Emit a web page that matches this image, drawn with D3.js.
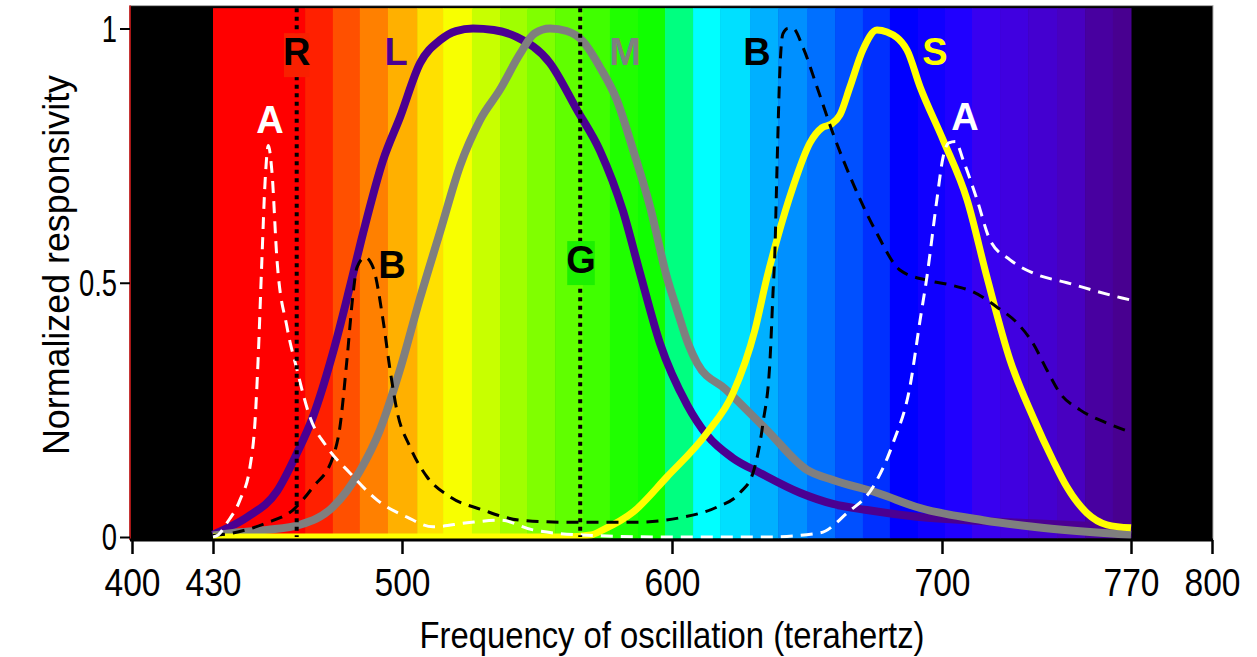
<!DOCTYPE html>
<html>
<head>
<meta charset="utf-8">
<script src="https://cdn.jsdelivr.net/npm/d3@7"></script>
<style>
  body { margin: 0; background: #fff; }
  text { font-family: "Liberation Sans", Arial, sans-serif; }
</style>
</head>
<body>
<div id="chart"></div>
<script>
var svgWidth = 1257;
var svgHeight = 657;

// spectrum bands (THz edges) and their colours
var bandEdges = [430, 464.1, 474.4, 484.4, 494.8, 505.6, 515.2, 525.9, 536.3, 546.3, 556.7, 567, 577,
    587.4, 597.4, 607.8, 617.8, 628.9, 639.3, 650, 660.4, 670.7, 680.7, 691.1, 701.1, 711.1, 721.5,
    731.9, 742.6, 753, 763.3, 770];
var bandColors = ["#ff0000", "#ff2000", "#ff5000", "#ff8000", "#ffb000", "#ffe000", "#f8ff00", "#c8ff00",
    "#a0ff00", "#80ff00", "#60ff00", "#40ff00", "#20ff00", "#10ff00", "#00ff80", "#00ffff", "#00e0ff",
    "#00b0ff", "#0090ff", "#0070ff", "#0050ff", "#0030ff", "#0000ff", "#1000ff", "#2000ff", "#3800f0",
    "#4000e0", "#4400d0", "#4800c0", "#4800a0", "#480090"];

var xTicks = [400, 430, 500, 600, 700, 770, 800];
var yTicks = [0, 0.5, 1];

// responsivity curves [frequency THz, normalized value]
var curveL = [[430, 0.004], [431.5, 0.008], [442.6, 0.039], [453.7, 0.09], [461.1, 0.165], [467, 0.236],
    [474.4, 0.362], [480.7, 0.492], [485.6, 0.598], [493, 0.741], [499.3, 0.826], [506.7, 0.932],
    [514.1, 0.977], [520, 0.995], [526.3, 1.0], [534, 0.997], [542.6, 0.983], [554.8, 0.932],
    [564.8, 0.84], [573.3, 0.76], [581.9, 0.64], [588.1, 0.52], [595.6, 0.38], [605.6, 0.26],
    [613, 0.2], [622.6, 0.155], [632.6, 0.126], [647.4, 0.087], [659.6, 0.065], [672.2, 0.053],
    [690.7, 0.04], [709.3, 0.033], [733.7, 0.027], [770, 0.018]];

var curveM = [[430, 0.003], [437.4, 0.008], [450, 0.014], [462.2, 0.024], [474.4, 0.059], [484.4, 0.13],
    [491.8, 0.21], [499.3, 0.33], [506.7, 0.47], [514.1, 0.6], [521.5, 0.73], [528.9, 0.82],
    [536.3, 0.88], [543.7, 0.95], [549, 0.99], [554.8, 1.0], [561, 0.995], [567, 0.975],
    [573.3, 0.924], [579.6, 0.859], [585.6, 0.761], [591.9, 0.649], [598.1, 0.511], [601.9, 0.446],
    [606, 0.38], [609.3, 0.342], [620, 0.29], [635.2, 0.21], [650, 0.132], [659.6, 0.112],
    [675.9, 0.087], [691.9, 0.057], [715.2, 0.033], [733.7, 0.02], [770, 0.004]];

var curveS = [[430, 0], [560, 0], [570, 0.004], [574.4, 0.014], [585.6, 0.049], [598.1, 0.118],
    [613, 0.205], [622.6, 0.283], [630.7, 0.407], [635.2, 0.511], [638.9, 0.585], [644.8, 0.688],
    [651.1, 0.775], [655.6, 0.805], [659, 0.812], [662.2, 0.83], [665.9, 0.885], [670.7, 0.958],
    [675.9, 0.997], [679.6, 0.993], [687, 0.958], [691.9, 0.885], [700.4, 0.781], [709.3, 0.663],
    [716.7, 0.51], [725.2, 0.348], [733.7, 0.236], [741.1, 0.151], [746.3, 0.098], [753.7, 0.047],
    [761.1, 0.024], [770, 0.018]];

var curveA = [[430, 0], [431.9, 0.004], [435.2, 0.028], [440, 0.073], [443.7, 0.138], [445.6, 0.23],
    [446.7, 0.348], [448.1, 0.544], [449.3, 0.7], [450.5, 0.77], [451.8, 0.72], [453.7, 0.545],
    [457.4, 0.413], [461.1, 0.329], [465.9, 0.236], [472.2, 0.177], [480.7, 0.126], [490.7, 0.073],
    [501.9, 0.039], [511.5, 0.02], [524.1, 0.028], [536.3, 0.033], [548.5, 0.014], [567, 0.004],
    [598.1, 0], [635.2, 0], [654.8, 0.008], [664.8, 0.047], [674.4, 0.098], [681.9, 0.185],
    [688.1, 0.295], [691.9, 0.427], [694.4, 0.511], [698.1, 0.663], [700.4, 0.747], [702.5, 0.775],
    [705, 0.778], [707.8, 0.742], [713, 0.663], [717.8, 0.584], [725.2, 0.545], [733.7, 0.519],
    [746.3, 0.5], [766.7, 0.47], [770, 0.466]];

var curveB = [[430, 0.003], [437.4, 0.008], [450, 0.028], [459.6, 0.053], [467, 0.098], [474.4, 0.157],
    [477, 0.216], [479.6, 0.348], [481.9, 0.479], [483.3, 0.53], [486.3, 0.55], [489.3, 0.53],
    [493, 0.426], [495.6, 0.328], [498.1, 0.249], [503, 0.177], [509.3, 0.118], [517.8, 0.079],
    [530, 0.053], [543.7, 0.033], [561.1, 0.029], [585.6, 0.029], [604.1, 0.039], [616.7, 0.059],
    [625.2, 0.087], [630, 0.126], [633.7, 0.224], [636.3, 0.348], [637.4, 0.479], [638.1, 0.56],
    [638.9, 0.728], [640, 0.924], [641.1, 0.99], [643, 1.0], [644.8, 1.0], [648.5, 0.963],
    [653.7, 0.885], [659.6, 0.794], [667, 0.696], [675.9, 0.597], [684.4, 0.525], [694.4, 0.505],
    [702.9, 0.496], [711.5, 0.482], [720.4, 0.452], [727.8, 0.421], [733.7, 0.381], [738.9, 0.328],
    [743.7, 0.283], [751.1, 0.25], [761.1, 0.224], [770.4, 0.205]];

// reference wavelengths (red 650 nm, green 530 nm) in THz
var markerFreqs = [461, 566];

// annotations: text, centre frequency, baseline value
var labelText = ["R", "L", "M", "B", "S", "A", "A", "B", "G"];
var labelFreq = [461, 497.8, 582.6, 631.5, 697.4, 451.1, 708.5, 496.3, 566.3];
var labelVal = [0.928, 0.928, 0.928, 0.928, 0.928, 0.795, 0.8, 0.509, 0.519];
var labelColor = ["#000", "#4b0092", "#808080", "#000", "#ffff00", "#fff", "#fff", "#000", "#000"];
var labelBox = ["#f82000", null, null, null, null, null, null, null, "#1cf000"];

var svg = d3.select("#chart")
    .append("svg")
    .attr("width", svgWidth)
    .attr("height", svgHeight);

var x = d3.scaleLinear().domain([400, 800]).range([132, 1212]);
var y = d3.scaleLinear().domain([0, 1]).range([537, 28.5]);

// squeeze a text element horizontally to a fraction of its natural width
function condense(sel, k) {
    sel.each(function () {
        var len = this.getComputedTextLength();
        d3.select(this).attr("textLength", len * k).attr("lengthAdjust", "spacingAndGlyphs");
    });
}

// black plot background
svg.append("rect")
    .attr("x", x(400) - 2)
    .attr("y", y(1.045))
    .attr("width", x(800) - x(400) + 3)
    .attr("height", y(-0.006) - y(1.045))
    .attr("fill", "#000")
    .attr("stroke", "#b0b0b0")
    .attr("stroke-width", 1);

svg.append("line")
    .attr("x1", x(400) - 2).attr("x2", x(400) - 2)
    .attr("y1", y(1.045)).attr("y2", y(-0.006))
    .attr("stroke", "#c00000").attr("stroke-width", 1.5);

// spectrum
svg.selectAll(".band")
    .data(bandColors)
    .enter()
    .append("rect")
    .attr("class", "band")
    .attr("x", (d, i) => x(bandEdges[i]))
    .attr("width", (d, i) => x(bandEdges[i + 1]) - x(bandEdges[i]) + 0.5)
    .attr("y", y(1.04))
    .attr("height", y(-0.003) - y(1.04))
    .attr("fill", d => d);

var line = d3.line()
    .x(d => x(d[0]))
    .y(d => y(d[1]))
    .curve(d3.curveMonotoneX);

var series = [
    { data: curveL, color: "#4b0092", width: 8, dash: null },
    { data: curveM, color: "#7f7f7f", width: 8, dash: null },
    { data: curveS, color: "#ffff00", width: 7, dash: null },
    { data: curveB, color: "#000", width: 3, dash: "12,8" },
    { data: curveA, color: "#fff", width: 3, dash: "12,8" }
];

svg.selectAll(".curve")
    .data(series)
    .enter()
    .append("path")
    .attr("class", "curve")
    .attr("d", d => line(d.data))
    .attr("fill", "none")
    .attr("stroke", d => d.color)
    .attr("stroke-width", d => d.width)
    .attr("stroke-dasharray", d => d.dash)
    .attr("stroke-linejoin", "round");

// dotted reference lines
svg.selectAll(".marker")
    .data(markerFreqs)
    .enter()
    .append("line")
    .attr("x1", d => x(d)).attr("x2", d => x(d))
    .attr("y1", y(1.04)).attr("y2", y(0))
    .attr("stroke", "#000")
    .attr("stroke-width", 4)
    .attr("stroke-dasharray", "4,4.5");

// labels
var labels = svg.selectAll(".lab")
    .data(labelText)
    .enter()
    .append("g")
    .attr("class", "lab");

labels.append("text")
    .attr("x", (d, i) => x(labelFreq[i]))
    .attr("y", (d, i) => y(labelVal[i]))
    .attr("text-anchor", "middle")
    .style("font-size", "38px")
    .style("font-weight", "bold")
    .attr("fill", (d, i) => labelColor[i])
    .text(d => d);

labels.each(function (d, i) {
    if (!labelBox[i]) return;
    var g = d3.select(this);
    var bb = g.select("text").node().getBBox();
    g.insert("rect", "text")
        .attr("x", bb.x + 1)
        .attr("y", bb.y + 2)
        .attr("width", bb.width - 2)
        .attr("height", bb.height + 2)
        .attr("fill", labelBox[i]);
});

// axes
var bottomAxis = d3.axisBottom(x).tickValues(xTicks).tickSize(14).tickSizeOuter(0).tickFormat(d3.format("d"));
var leftAxis = d3.axisLeft(y).tickValues(yTicks).tickSize(10).tickSizeOuter(0).tickFormat(d => d === 0.5 ? "0.5" : d3.format("d")(d));

var xAxisG = svg.append("g")
    .attr("transform", `translate(0, 540)`)
    .call(bottomAxis);
xAxisG.select(".domain")
    .attr("d", `M${x(400) - 2},0H${x(800) + 1}`)
    .attr("stroke-width", 3);
xAxisG.selectAll(".tick line").attr("stroke-width", 2.5);
xAxisG.selectAll(".tick text")
    .attr("y", 56)
    .attr("dy", 0)
    .attr("fill", "#000")
    .style("font-size", "39px")
    .style("font-family", "'Liberation Sans', Arial, sans-serif")
    .call(condense, 0.86);

var yAxisG = svg.append("g")
    .attr("transform", `translate(${x(400) - 2}, 0)`)
    .call(leftAxis);
yAxisG.select(".domain").remove();
yAxisG.selectAll(".tick line").attr("stroke-width", 2);
yAxisG.selectAll(".tick text")
    .attr("x", -13)
    .attr("dy", "0.36em")
    .attr("fill", "#000")
    .style("font-size", "36px")
    .style("font-family", "'Liberation Sans', Arial, sans-serif")
    .call(condense, 0.76);

// axis titles
svg.append("text")
    .attr("x", x(600))
    .attr("y", 648)
    .attr("text-anchor", "middle")
    .attr("textLength", 505)
    .attr("lengthAdjust", "spacingAndGlyphs")
    .style("font-size", "36px")
    .text("Frequency of oscillation (terahertz)");

svg.append("text")
    .attr("transform", "rotate(-90)")
    .attr("x", -265)
    .attr("y", 69)
    .attr("text-anchor", "middle")
    .attr("textLength", 380)
    .attr("lengthAdjust", "spacingAndGlyphs")
    .style("font-size", "36px")
    .text("Normalized responsivity");
</script>
</body>
</html>
